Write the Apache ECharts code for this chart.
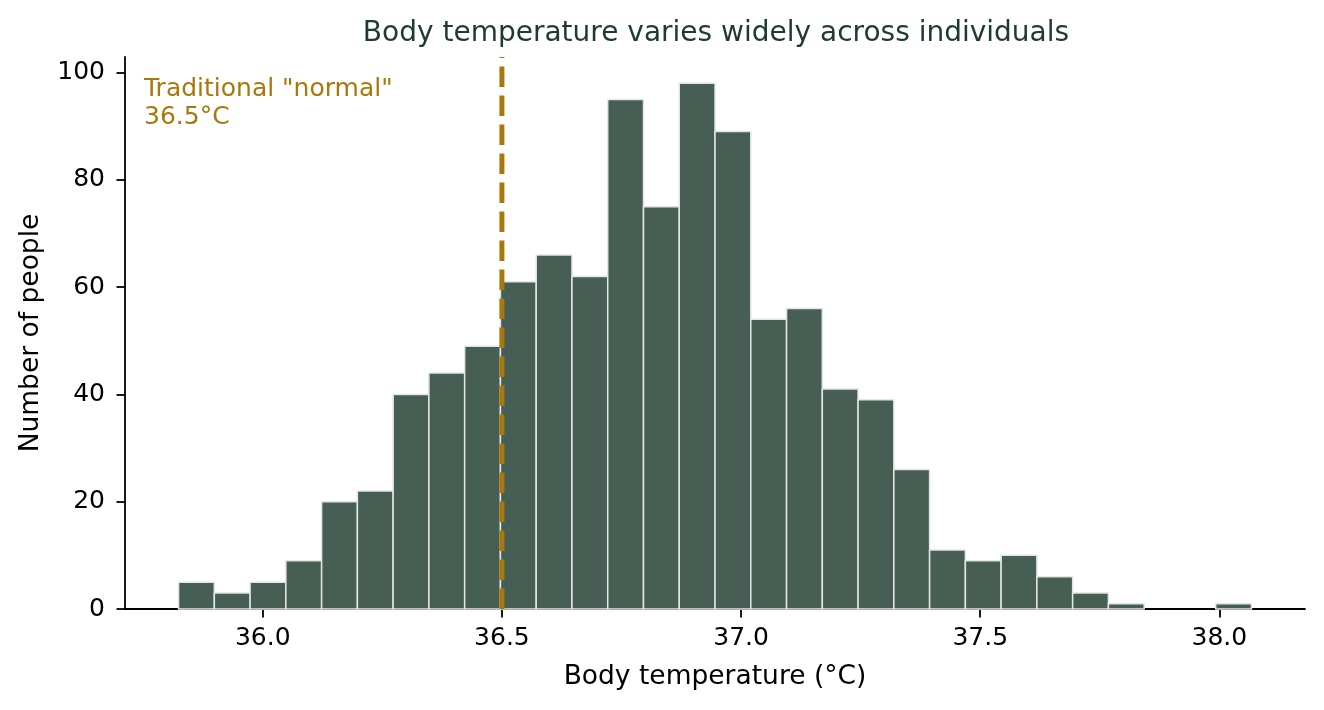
<!DOCTYPE html>
<html>
<head>
<meta charset="utf-8">
<script src="https://cdn.jsdelivr.net/npm/echarts@6/dist/echarts.min.js"></script>
<style>
  html, body { margin: 0; padding: 0; background: #ffffff; }
  #histChart { width: 1324px; height: 710px; }
</style>
</head>
<body>
<div id="histChart"></div>
<script>
// 直方图的分箱（°C），30 个等宽箱
const binStart = 35.824;
const binWidth = 0.07477;
const counts = [5, 3, 5, 9, 20, 22, 40, 44, 49, 61, 66, 62, 95, 75, 98, 89, 54, 56, 41, 39, 26, 11, 9, 10, 6, 3, 1, 0, 0, 1];

// 刻度
const xTicks = [36.0, 36.5, 37.0, 37.5, 38.0];
const yTicks = [0, 20, 40, 60, 80, 100];

// 传统“正常”体温
const normalTemp = 36.5;

const FONT = 'DejaVu Sans';
const BAR_COLOR = '#465e54';
const NORMAL_COLOR = '#a8780b';

function drawHistChart() {
  const xMin = 35.712;
  const xMax = 38.179;
  const yMax = 102.9;

  const binData = counts.map((c, i) => [binStart + i * binWidth, binStart + (i + 1) * binWidth, c]);

  const myChart = echarts.init(document.querySelector('#histChart'));

  const option = {
    backgroundColor: '#ffffff',
    animation: false,
    title: {
      text: 'Body temperature varies widely across individuals',
      left: 711,
      top: 15,
      textAlign: 'center',
      textStyle: {
        fontFamily: FONT,
        fontSize: 28,
        fontWeight: 'normal',
        color: '#1f3a32',
      },
    },
    grid: {
      left: 125,
      right: 19,
      top: 57,
      bottom: 101,
    },
    xAxis: {
      type: 'value',
      min: xMin,
      max: xMax,
      name: 'Body temperature (°C)',
      nameLocation: 'middle',
      nameGap: 55,
      nameTextStyle: { fontFamily: FONT, fontSize: 26.5, color: '#000000' },
      axisLine: { show: true, onZero: false, lineStyle: { color: '#000000', width: 1.8 } },
      axisTick: { show: true, length: 8.5, customValues: xTicks, lineStyle: { color: '#000000', width: 1.8 } },
      axisLabel: {
        customValues: xTicks,
        margin: 17,
        fontFamily: FONT,
        fontSize: 25,
        color: '#000000',
        formatter: v => v.toFixed(1),
      },
      splitLine: { show: false },
    },
    yAxis: {
      type: 'value',
      min: 0,
      max: yMax,
      name: 'Number of people',
      nameLocation: 'middle',
      nameGap: 80,
      nameTextStyle: { fontFamily: FONT, fontSize: 26.5, color: '#000000' },
      axisLine: { show: true, onZero: false, lineStyle: { color: '#000000', width: 1.8 } },
      axisTick: { show: true, length: 8.5, customValues: yTicks, lineStyle: { color: '#000000', width: 1.8 } },
      axisLabel: {
        customValues: yTicks,
        margin: 20,
        padding: [8, 0, 0, 0],
        fontFamily: FONT,
        fontSize: 25,
        color: '#000000',
      },
      splitLine: { show: false },
    },
    graphic: [
      {
        type: 'text',
        left: 144,
        top: 75,
        style: {
          text: 'Traditional "normal"\n36.5°C',
          fontFamily: FONT,
          fontSize: 25,
          lineHeight: 28.5,
          fill: NORMAL_COLOR,
        },
      },
    ],
    series: [
      {
        type: 'custom',
        name: 'counts',
        encode: { x: [0, 1], y: 2 },
        data: binData,
        z: 2,
        renderItem: (params, api) => {
          if (api.value(2) <= 0) {
            return null;
          }
          const topLeft = api.coord([api.value(0), api.value(2)]);
          const bottomRight = api.coord([api.value(1), 0]);
          return {
            type: 'rect',
            shape: {
              x: topLeft[0],
              y: topLeft[1],
              width: bottomRight[0] - topLeft[0],
              height: bottomRight[1] - topLeft[1],
            },
            style: {
              fill: BAR_COLOR,
              stroke: '#e2e6e4',
              lineWidth: 1.5,
            },
          };
        },
      },
      {
        type: 'line',
        name: 'normal',
        data: [[normalTemp, 0], [normalTemp, yMax]],
        symbol: 'none',
        silent: true,
        z: 5,
        lineStyle: {
          color: NORMAL_COLOR,
          width: 5,
          type: [20.5, 8.5],
          cap: 'butt',
        },
      },
    ],
  };

  myChart.setOption(option);
  return myChart;
}

drawHistChart();
</script>
</body>
</html>
